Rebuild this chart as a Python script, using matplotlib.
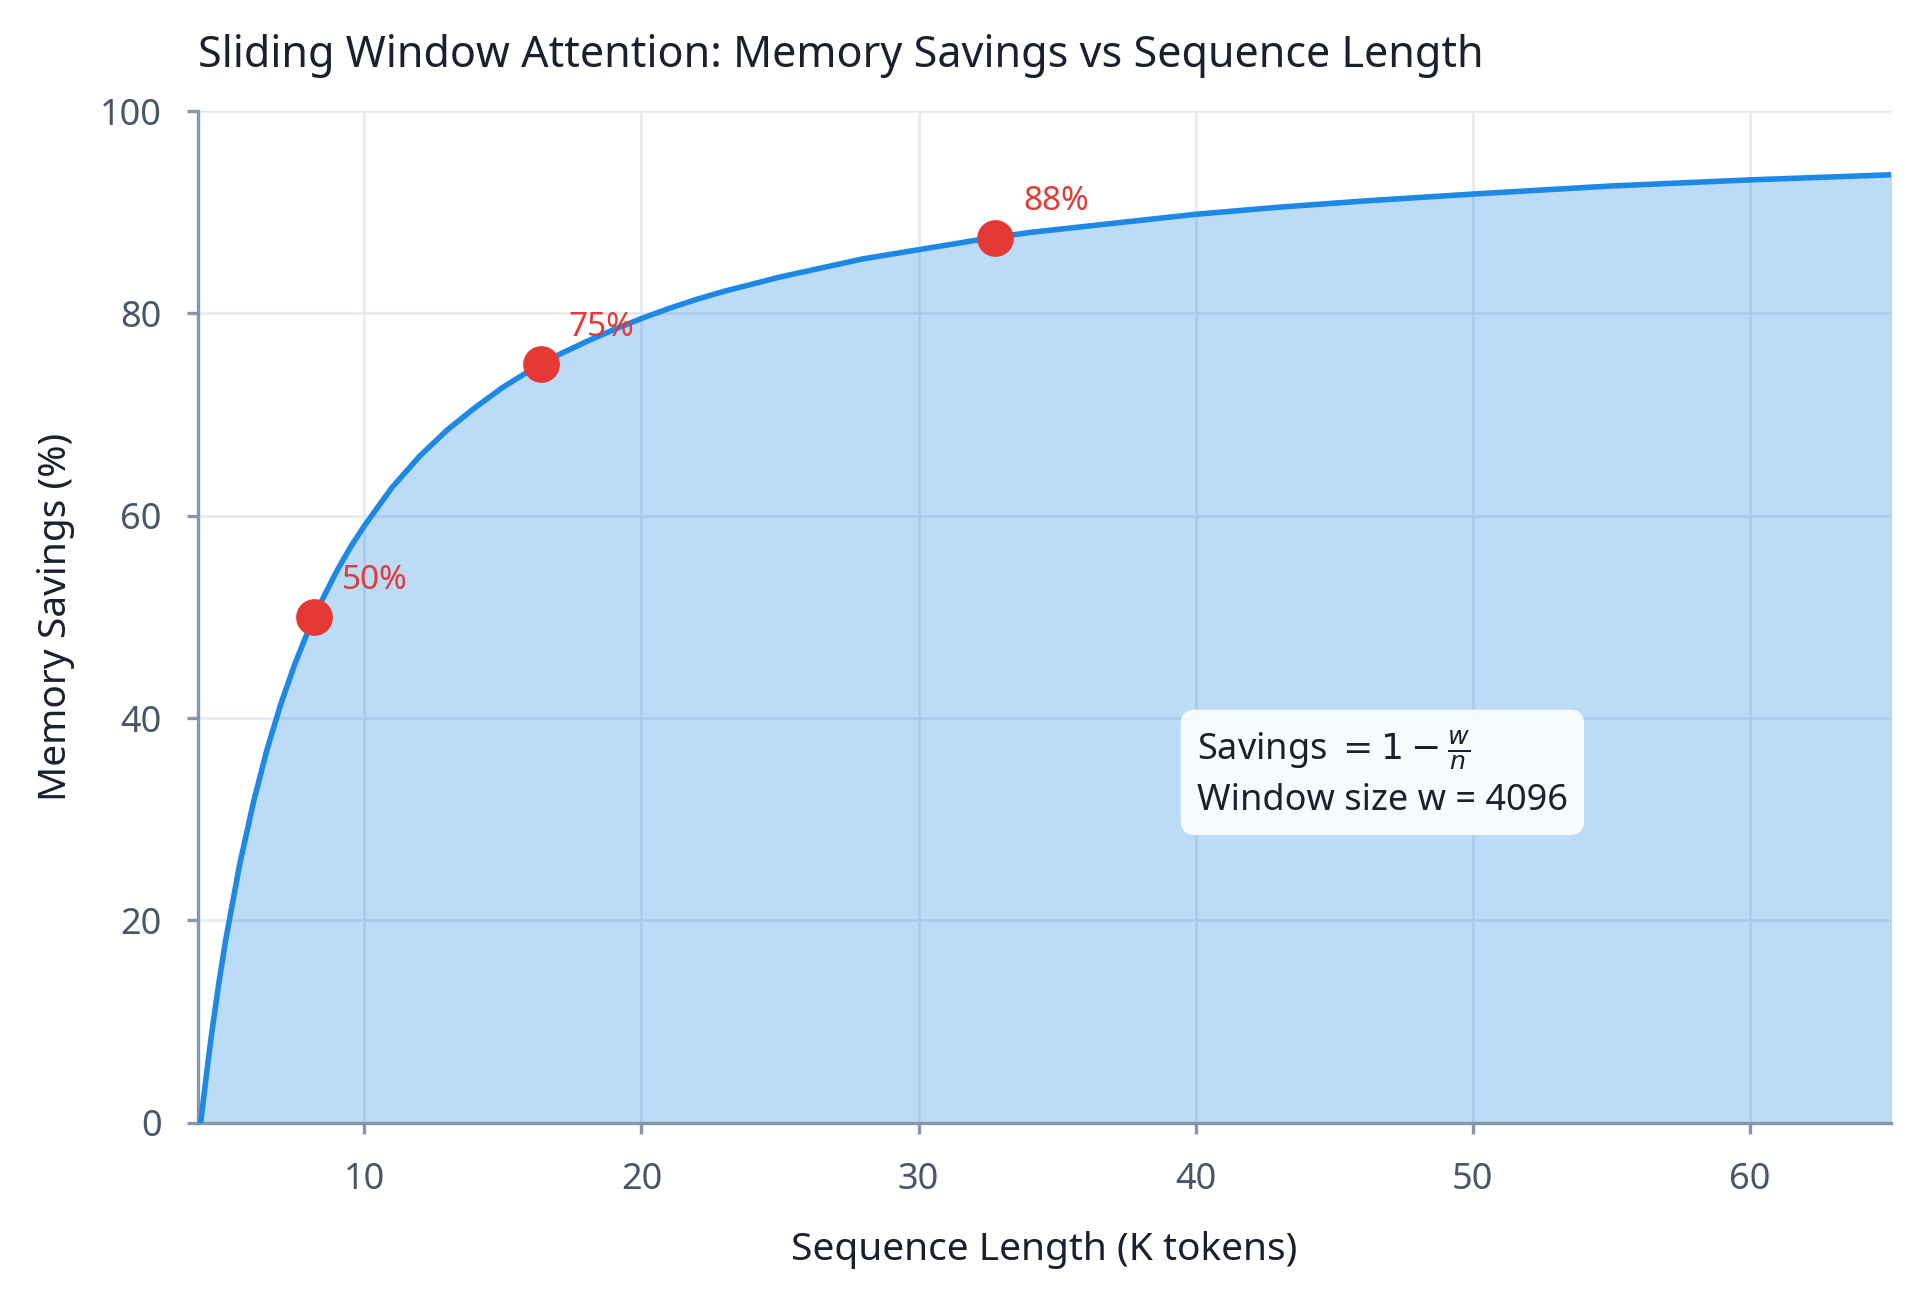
import matplotlib
matplotlib.use("Agg")
import matplotlib.pyplot as plt

plt.rcParams['font.family'] = ['Noto Sans', 'DejaVu Sans']
plt.rcParams['mathtext.fontset'] = 'dejavusans'

# Curve values (sequence length in K tokens, savings %)
seq_len_k = [4.096, 4.3, 4.5, 4.75, 5.0, 5.5, 6.0, 6.5, 7.0, 7.5, 8.0, 8.5, 9.0, 9.5, 10.0, 11.0, 12.0,
             13.0, 14.0, 15.0, 16.0, 17.0, 18.0, 19.0, 20.0, 21.0, 22.0, 23.0, 24.0, 25.0, 26.5,
             28.0, 30.0, 32.0, 34.0, 36.0, 38.0, 40.0, 43.0, 46.0, 50.0, 55.0, 60.0, 65.536]
savings_pct = [0.0, 4.7, 9.0, 13.8, 18.1, 25.5, 31.7, 37.0, 41.5, 45.4, 48.8, 51.8, 54.5, 56.9, 59.0,
               62.8, 65.9, 68.5, 70.7, 72.7, 74.4, 75.9, 77.2, 78.4, 79.5, 80.5, 81.4, 82.2, 82.9,
               83.6, 84.5, 85.4, 86.3, 87.2, 88.0, 88.6, 89.2, 89.8, 90.5, 91.1, 91.8, 92.6, 93.2,
               93.75]

# Highlighted points
mark_x = [8.192, 16.384, 32.768]
mark_y = [50.0, 75.0, 87.5]
mark_labels = ["50%", "75%", "88%"]

x_ticks = [10, 20, 30, 40, 50, 60]
y_ticks = [0, 20, 40, 60, 80, 100]

blue = "#1e88e5"
red = "#e53935"
axis_gray = "#8896aa"
tick_text = "#4a5568"
dark = "#1a202c"

fig = plt.figure(figsize=(9.6, 6.46), dpi=200)
ax = fig.add_axes([0.103, 0.131, 0.882, 0.783])

ax.fill_between(seq_len_k, savings_pct, 0, color=blue, alpha=0.3, linewidth=0, zorder=2)
ax.plot(seq_len_k, savings_pct, color=blue, linewidth=2.0, zorder=3,
        solid_joinstyle="round")
ax.scatter(mark_x, mark_y, s=175, color=red, zorder=5, linewidths=0)
for x, y, lab in zip(mark_x, mark_y, mark_labels):
    ax.annotate(lab, (x, y), xytext=(10, 10), textcoords="offset points",
                color=red, fontsize=12, zorder=6)

ax.set_xlim(3.99, 65.1)
ax.set_ylim(0, 100)
ax.set_xticks(x_ticks)
ax.set_yticks(y_ticks)
ax.grid(True, color="#e4e8ee", linewidth=0.9, zorder=1)
ax.set_axisbelow(True)

for s in ["top", "right"]:
    ax.spines[s].set_visible(False)
for s in ["left", "bottom"]:
    ax.spines[s].set_color(axis_gray)
    ax.spines[s].set_linewidth(1.2)
ax.tick_params(axis="both", colors=axis_gray, labelcolor=tick_text, labelsize=13,
               length=4, width=1.2)
ax.tick_params(axis="x", pad=10)
ax.tick_params(axis="y", pad=9)

ax.set_xlabel("Sequence Length (K tokens)", fontsize=14, color=dark, labelpad=12)
ax.set_ylabel("Memory Savings (%)", fontsize=14, color=dark, labelpad=9)
ax.set_title("Sliding Window Attention: Memory Savings vs Sequence Length",
             fontsize=15.5, color=dark, loc="left", pad=16)

ax.text(0.59, 0.345, "Savings $= 1 - \\frac{w}{n}$\nWindow size w = 4096",
        transform=ax.transAxes, fontsize=13, color=dark, va="center", ha="left",
        linespacing=1.4, zorder=7,
        bbox=dict(boxstyle="round,pad=0.45,rounding_size=0.4", facecolor="white",
                  edgecolor="none", alpha=0.9))

fig.savefig("out.png", dpi=200)
